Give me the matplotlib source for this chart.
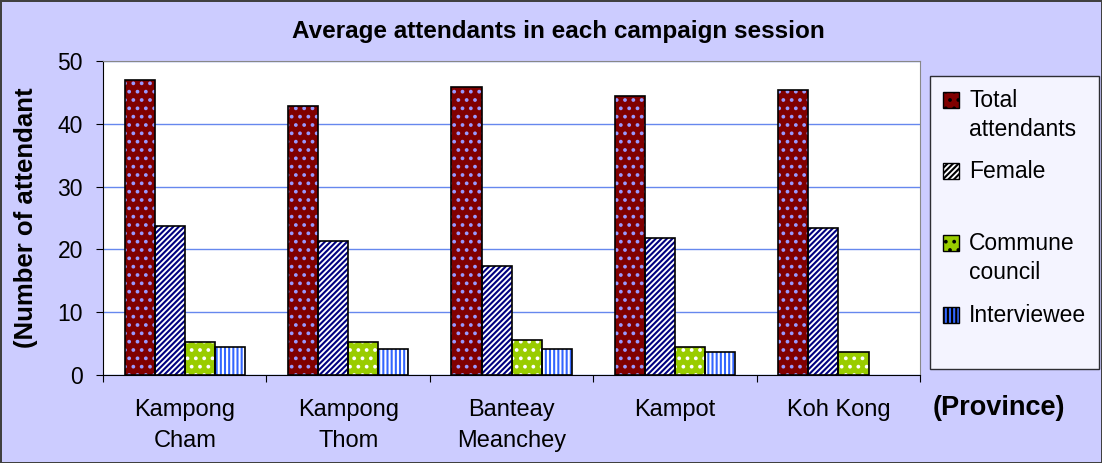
import numpy as np
import matplotlib
matplotlib.use("Agg")
import matplotlib.pyplot as plt
from matplotlib.legend_handler import HandlerPatch

provinces = ["Kampong\nCham", "Kampong\nThom", "Banteay\nMeanchey", "Kampot", "Koh Kong"]
total = [47.0, 42.8, 45.8, 44.5, 45.4]
female = [23.7, 21.3, 17.4, 21.8, 23.4]
commune = [5.2, 5.2, 5.5, 4.5, 3.6]
interviewee = [4.5, 4.2, 4.2, 3.7, 0]

# trailing newlines keep every legend row two lines tall, like excel
series = [
    ("Total\nattendants", total, "#800000", "#9999FF", ".."),
    ("Female\n ", female, "white", "#000080", "//////"),
    ("Commune\ncouncil", commune, "#99CC00", "white", ".."),
    ("Interviewee\n ", interviewee, "#3366FF", "white", "||||"),
]

plt.rcParams["font.family"] = ["Liberation Sans", "DejaVu Sans"]
plt.rcParams["hatch.linewidth"] = 1.5


class HandlerTop(HandlerPatch):
    # put the key next to the first line of the label
    def __init__(self, shift=0, **kw):
        super().__init__(**kw)
        self.shift = shift

    def create_artists(self, legend, orig_handle, xdescent, ydescent,
                       width, height, fontsize, trans):
        return super().create_artists(legend, orig_handle, xdescent,
                                      ydescent - self.shift, width, height,
                                      fontsize, trans)


fig = plt.figure(figsize=(11.02, 4.63), dpi=100, facecolor="#CCCCFF",
                 edgecolor="#404040", linewidth=2)
ax = fig.add_axes([0.0935, 0.19, 0.7415, 0.678])
ax.set_facecolor("white")

x = np.arange(len(provinces))
w = 0.184
handles = []
for i, (name, vals, fc, hc, hatch) in enumerate(series):
    pos = x + (i - 1.5) * w
    lw = [1.2 if v > 0 else 0 for v in vals]
    ax.bar(pos, vals, w, color=fc, edgecolor=hc, hatch=hatch, linewidth=0, zorder=2)
    ax.bar(pos, vals, w, facecolor="none", edgecolor="black", linewidth=lw, zorder=3)
    h = plt.Rectangle((0, 0), 1, 1, facecolor=fc, edgecolor="black", hatch=hatch, linewidth=1)
    handles.append(h)

ax.set_ylim(0, 50)
ax.set_xlim(-0.5, len(provinces) - 0.5)
ax.set_yticks([0, 10, 20, 30, 40, 50])
ax.yaxis.grid(True, color="#6688EE", linewidth=1)
ax.set_axisbelow(True)
ax.set_xticks(np.arange(-0.5, len(provinces)), minor=False)
ax.set_xticklabels([])
ax.set_xticks(x, minor=True)
ax.set_xticklabels(provinces, minor=True, fontsize=17, linespacing=1.55)
ax.tick_params(axis="x", which="minor", length=0, pad=17)
ax.tick_params(axis="x", which="major", length=5, direction="out")
ax.tick_params(axis="y", labelsize=16.5, length=5, pad=9.5, direction="out")
for s in ["top", "right"]:
    ax.spines[s].set_color("#888888")
for s in ["left", "bottom"]:
    ax.spines[s].set_color("black")

fig.text(0.507, 0.931, "Average attendants in each campaign session",
         ha="center", va="center", fontsize=17.5, fontweight="bold")
ax.set_ylabel("(Number of attendant", fontsize=18.5, fontweight="bold")
ax.yaxis.set_label_coords(-0.079, 0.5)
fig.text(0.906, 0.119, "(Province)", ha="center", va="center", fontsize=19.5, fontweight="bold")

hmap = {h: HandlerTop(shift=11.5) for h in handles}
leg = fig.legend(handles, [s[0] for s in series], loc="upper left",
                 bbox_to_anchor=(0.844, 0.836), fontsize=16.5, frameon=True,
                 fancybox=False, edgecolor="black", labelspacing=0.85,
                 handlelength=0.7, handleheight=0.7, handletextpad=0.45,
                 borderpad=0.55, borderaxespad=0, handler_map=hmap)
leg.get_frame().set_linewidth(1)
for t in leg.get_texts():
    t.set_linespacing(1.35)

fig.savefig("out.png", dpi=100, facecolor=fig.get_facecolor(), edgecolor=fig.get_edgecolor())
